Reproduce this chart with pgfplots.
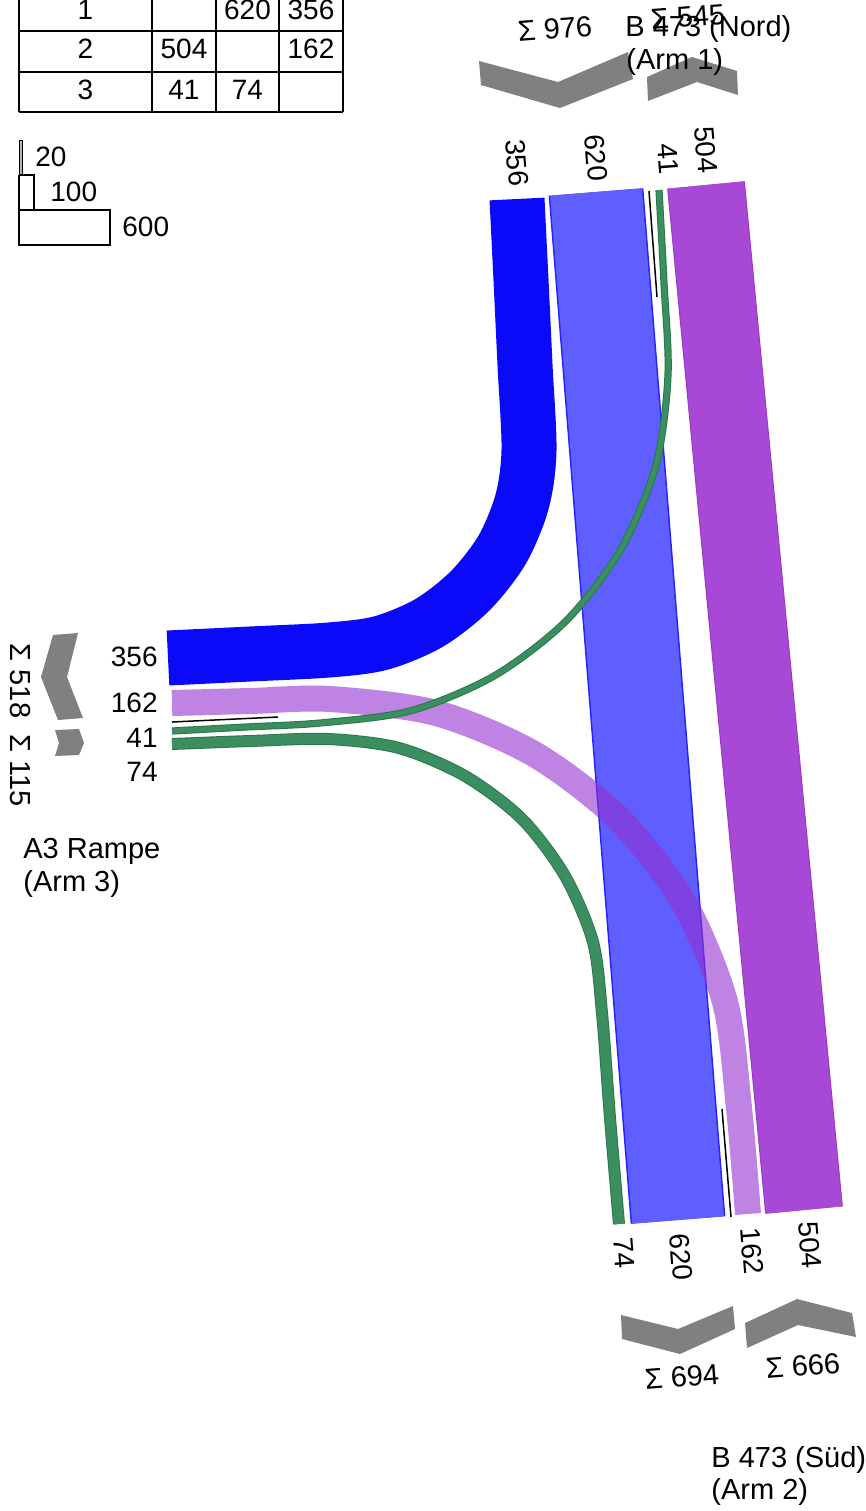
\documentclass[border=0pt]{standalone}
\usepackage{pgfplots}
\pgfplotsset{compat=1.18}
\usepackage{fontspec}
\setmainfont{Liberation Sans}
\definecolor{bdark}{RGB}{10,10,248}
\definecolor{bline}{RGB}{35,35,255}
\definecolor{blight}{RGB}{95,95,255}
\definecolor{pline}{RGB}{150,55,200}
\definecolor{pfill}{RGB}{168,72,215}
\definecolor{plight}{RGB}{148,48,208}
\definecolor{gline}{RGB}{40,120,75}
\definecolor{gfill}{RGB}{58,142,96}
\definecolor{agray}{RGB}{128,128,128}
\newcommand\lf{\fontsize{14.5}{16}\selectfont}
\newcommand\nf{\fontsize{14}{16}\selectfont}

\begin{document}
\begin{tikzpicture}
\begin{axis}[
  scale only axis, width=433pt, height=755.5pt,
  xmin=0, xmax=866, ymin=0, ymax=1511, y dir=reverse,
  hide axis, clip=false,
]
% --- flows ---
% 1 -> 3 (356)
\addplot[smooth, line width=27.5pt, color=bdark] coordinates {
  (517,199) (521,280) (525,365) (529,450) (522,502) (502,550) (470,591)
  (429,623) (381,643) (329,650) (250,654) (168,658)};
% 1 -> 2 (620)
\addplot[line width=47.5pt, color=bline] coordinates {(596,192) (678,1220)};
\addplot[line width=46pt, color=blight] coordinates {(596,192) (678,1220)};
% 2 -> 1 (504)
\addplot[line width=39pt, color=pline] coordinates {(706,185) (804,1210)};
\addplot[line width=38pt, color=pfill] coordinates {(706,185) (804,1210)};
% 2 -> 3 (162)
\addplot[smooth, line width=13pt, color=plight, opacity=0.6] coordinates {
  (172,703) (250,701) (330,699) (436,713) (534,754) (619,819) (684,903)
  (725,1002) (739,1108) (748,1214)};
% 3 -> 1 (41)
\addplot[smooth, line width=3.6pt, color=gline] coordinates {
  (659,190) (664,283) (668,375) (656,465) (621,549) (566,621) (494,676)
  (410,711) (320,723) (246,727) (172,731)};
\addplot[smooth, line width=2.6pt, color=gfill] coordinates {
  (659,190) (664,283) (668,375) (656,465) (621,549) (566,621) (494,676)
  (410,711) (320,723) (246,727) (172,731)};
% 3 -> 2 (74)
\addplot[smooth, line width=6pt, color=gline] coordinates {
  (172,744) (250,741) (328,739) (399,748) (465,776) (522,819) (565,876)
  (593,942) (602,1013) (610,1118) (619,1224)};
\addplot[smooth, line width=5pt, color=gfill] coordinates {
  (172,744) (250,741) (328,739) (399,748) (465,776) (522,819) (565,876)
  (593,942) (602,1013) (610,1118) (619,1224)};
% separators
\addplot[black, line width=0.75pt] coordinates {(172,722) (278,717)};
\addplot[black, line width=0.75pt] coordinates {(649,191) (657,297)};
\addplot[black, line width=0.75pt] coordinates {(722,1109) (731,1217)};

% --- arm arrows ---
\addplot[fill=agray, draw=none] coordinates {(479,61) (558,82) (628,52) (633,79) (560,108) (481,85)};
\addplot[fill=agray, draw=none] coordinates {(647,77) (692,57) (737,71) (738,95) (697,82) (648,101)};
\addplot[fill=agray, draw=none] coordinates {(53,635) (78,633) (67,677) (83,718) (58,720) (41,677)};
\addplot[fill=agray, draw=none] coordinates {(55,730) (79,729) (84,743) (79,755) (55,756) (59,743)};
\addplot[fill=agray, draw=none] coordinates {(621,1315) (678,1329) (733,1306) (735,1329) (680,1354) (622,1339)};
\addplot[fill=agray, draw=none] coordinates {(745,1323) (797,1299) (852,1313) (856,1337) (798,1325) (747,1348)};

% --- matrix table ---
\addplot[black, line width=0.75pt] coordinates {(19,0) (19,112)};
\addplot[black, line width=0.75pt] coordinates {(152,0) (152,112)};
\addplot[black, line width=0.75pt] coordinates {(216,0) (216,112)};
\addplot[black, line width=0.75pt] coordinates {(279,0) (279,112)};
\addplot[black, line width=0.75pt] coordinates {(343,0) (343,112)};
\addplot[black, line width=0.75pt] coordinates {(19,31) (343,31)};
\addplot[black, line width=0.75pt] coordinates {(19,72) (343,72)};
\addplot[black, line width=0.75pt] coordinates {(19,112) (343,112)};

% --- scale legend ---
\addplot[black, fill=agray!60, line width=0.5pt] coordinates {(19,140) (22,140) (22,175) (19,175) (19,140)};
\addplot[black, fill=white, line width=0.75pt] coordinates {(19,175) (34,175) (34,210) (19,210) (19,175)};
\addplot[black, fill=white, line width=0.75pt] coordinates {(19,210) (110,210) (110,245) (19,245) (19,210)};

% --- texts ---
\node[font=\nf] at (axis cs:85.5,10) {1};
\node[font=\nf] at (axis cs:247.5,10) {620};
\node[font=\nf] at (axis cs:311,10) {356};
\node[font=\nf] at (axis cs:85.5,49) {2};
\node[font=\nf] at (axis cs:184,49) {504};
\node[font=\nf] at (axis cs:311,49) {162};
\node[font=\nf] at (axis cs:85.5,90) {3};
\node[font=\nf] at (axis cs:184,90) {41};
\node[font=\nf] at (axis cs:247.5,90) {74};

\node[font=\nf, anchor=west, inner sep=0pt] at (axis cs:35,157) {20};
\node[font=\nf, anchor=west, inner sep=0pt] at (axis cs:50,192) {100};
\node[font=\nf, anchor=west, inner sep=0pt] at (axis cs:122,227) {600};

\node[font=\nf, rotate=-85.5] at (axis cs:517,163) {356};
\node[font=\nf, rotate=-85.5] at (axis cs:596,158) {620};
\node[font=\nf, rotate=-85.5] at (axis cs:668,159) {41};
\node[font=\nf, rotate=-85.5] at (axis cs:706,150) {504};

\node[font=\nf, rotate=-85.5] at (axis cs:624,1253) {74};
\node[font=\nf, rotate=-85.5] at (axis cs:681,1257) {620};
\node[font=\nf, rotate=-85.5] at (axis cs:752,1251) {162};
\node[font=\nf, rotate=-85.5] at (axis cs:810,1245) {504};

\node[font=\nf, anchor=east, inner sep=0pt] at (axis cs:158,657) {356};
\node[font=\nf, anchor=east, inner sep=0pt] at (axis cs:158,703) {162};
\node[font=\nf, anchor=east, inner sep=0pt] at (axis cs:158,738) {41};
\node[font=\nf, anchor=east, inner sep=0pt] at (axis cs:158,772) {74};

\node[font=\lf, rotate=-90] at (axis cs:20,681) {Σ 518};
\node[font=\lf, rotate=-90] at (axis cs:20,771) {Σ 115};
\node[font=\lf, rotate=4.5] at (axis cs:555,29) {Σ 976};
\node[font=\lf, rotate=4.5] at (axis cs:688,17) {Σ 545};
\node[font=\lf, rotate=4.5] at (axis cs:682,1377) {Σ 694};
\node[font=\lf, rotate=4.5] at (axis cs:803,1366) {Σ 666};

\node[font=\lf, anchor=west, inner sep=0pt] at (axis cs:625,29) {B 473 (Nord)};
\node[font=\lf, anchor=west, inner sep=0pt] at (axis cs:626,62) {(Arm 1)};
\node[font=\lf, anchor=west, inner sep=0pt] at (axis cs:23,851) {A3 Rampe};
\node[font=\lf, anchor=west, inner sep=0pt] at (axis cs:23,884) {(Arm 3)};
\node[font=\lf, anchor=west, inner sep=0pt] at (axis cs:711,1460) {B 473 (Süd)};
\node[font=\lf, anchor=west, inner sep=0pt] at (axis cs:711,1492) {(Arm 2)};
\end{axis}
\pgfresetboundingbox
\path[use as bounding box] (current axis.south west) rectangle (current axis.north east);
\end{tikzpicture}
\end{document}
